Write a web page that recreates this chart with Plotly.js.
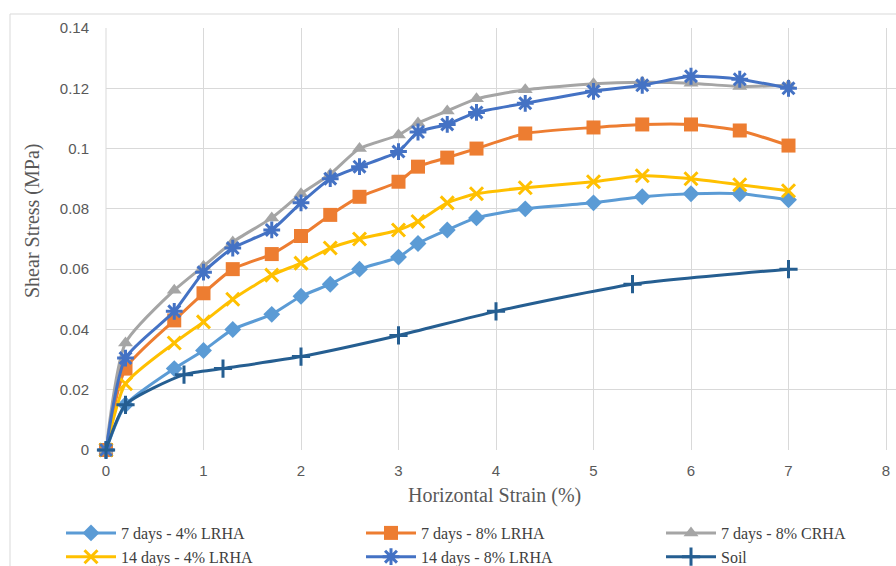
<!DOCTYPE html>
<html><head><meta charset="utf-8">
<script src="https://cdn.plot.ly/plotly-3.0.1.min.js"></script>
<style>html,body{margin:0;padding:0;background:#fff;}#chart{width:896px;height:566px;}</style>
</head><body><div id="chart"></div>
<script>
const seriesNames = ["7 days - 4% LRHA","7 days - 8% LRHA","7 days - 8% CRHA","14 days - 4% LRHA","14 days - 8% LRHA","Soil"];
const strainMain = [0,0.2,0.7,1,1.3,1.7,2,2.3,2.6,3,3.2,3.5,3.8,4.3,5,5.5,6,6.5,7];
const d7_4L  = [0,0.015,0.027,0.033,0.040,0.045,0.051,0.055,0.060,0.064,0.0685,0.073,0.077,0.080,0.082,0.084,0.085,0.085,0.083];
const d7_8L  = [0,0.027,0.043,0.052,0.060,0.065,0.071,0.078,0.084,0.089,0.094,0.097,0.100,0.105,0.107,0.108,0.108,0.106,0.101];
const d7_8C  = [0,0.0355,0.053,0.061,0.069,0.077,0.085,0.0915,0.100,0.1045,0.1085,0.1125,0.1165,0.1195,0.1215,0.122,0.1217,0.1206,0.121];
const d14_4L = [0,0.022,0.0355,0.0425,0.050,0.058,0.062,0.067,0.070,0.073,0.0758,0.082,0.085,0.087,0.089,0.091,0.090,0.088,0.086];
const d14_8L = [0,0.0305,0.046,0.059,0.067,0.073,0.082,0.090,0.094,0.099,0.1055,0.108,0.112,0.115,0.119,0.121,0.124,0.123,0.120];
const strainSoil = [0,0.2,0.8,1.2,2,3,4,5.4,7];
const soil = [0,0.015,0.025,0.027,0.031,0.038,0.046,0.055,0.060];
const xTicks = [0,1,2,3,4,5,6,7,8];
const yTicks = [0,0.02,0.04,0.06,0.08,0.1,0.12,0.14];
const xTitle = "Horizontal Strain (%)";
const yTitle = "Shear Stress (MPa)";

const colors = ["#5B9BD5","#ED7D31","#A5A5A5","#FFC000","#4472C4","#255E91"];
const symbols = ["diamond","square","triangle-up","x-thin","asterisk","cross-thin"];
const sizes = [13,14,13,13,14,13];
const ys = [d7_4L,d7_8L,d7_8C,d14_4L,d14_8L,soil];
const xs = [strainMain,strainMain,strainMain,strainMain,strainMain,strainSoil];

const traces = seriesNames.map((n,i)=>{
  const thin = symbols[i].includes("thin") || symbols[i]==="asterisk";
  return {
    type:"scatter", mode:"lines+markers", name:n, x:xs[i], y:ys[i], cliponaxis:false,
    line:{color:colors[i], width:3, shape:"spline", smoothing:0.6},
    marker:{symbol:symbols[i], size:sizes[i], color:colors[i],
      line:{color:colors[i], width: thin ? 3 : 0}}
  };
});

const PW = 790; // plot width in px
const layout = {
  width:896, height:566,
  margin:{l:106, r:0, t:28, b:116, autoexpand:false},
  paper_bgcolor:"#fff", plot_bgcolor:"#fff",
  showlegend:true,
  legend:{orientation:"h", x:(61-106)/PW, xanchor:"left", y:(450-516)/422, yanchor:"top",
    entrywidth:235, entrywidthmode:"pixels", itemwidth:50, bgcolor:"rgba(0,0,0,0)",
    font:{family:"Liberation Serif", size:16, color:"#404040"}, tracegroupgap:0},
  xaxis:{range:[0,8*PW/780], tickvals:xTicks, showgrid:true, gridcolor:"#D9D9D9", gridwidth:1,
    zeroline:false, showline:false, ticks:"", ticklabelstandoff:10,
    tickfont:{family:"Liberation Sans", size:15, color:"#595959"}},
  yaxis:{range:[0,0.14], tickvals:yTicks, showgrid:true, gridcolor:"#D9D9D9", gridwidth:1,
    zeroline:false, showline:false, ticks:"", ticklabelstandoff:16,
    tickfont:{family:"Liberation Sans", size:15, color:"#595959"}},
  annotations:[
    {text:yTitle, xref:"paper", yref:"paper",
    x:(32-106)/PW, y:(450-221)/422, xanchor:"center", yanchor:"middle", textangle:-90, showarrow:false,
    font:{family:"Liberation Serif", size:20, color:"#595959"}},
    {text:xTitle, xref:"paper", yref:"paper",
    x:(494-106)/PW, y:(450-495)/422, xanchor:"center", yanchor:"middle", showarrow:false,
    font:{family:"Liberation Serif", size:20, color:"#595959"}}
  ],
  shapes:[
    {type:"rect", xref:"paper", yref:"paper", x0:(10-106)/PW, x1:(910-106)/PW, y0:(450-580)/422, y1:(450-14)/422,
     line:{color:"#D9D9D9", width:1}, fillcolor:"rgba(0,0,0,0)", layer:"below"},
    {type:"line", xref:"paper", yref:"paper", x0:0, x1:0, y0:0, y1:1, line:{color:"#D9D9D9", width:1}, layer:"below"}
  ]
};
Plotly.newPlot("chart", traces, layout, {displayModeBar:false, staticPlot:true});
</script></body></html>
